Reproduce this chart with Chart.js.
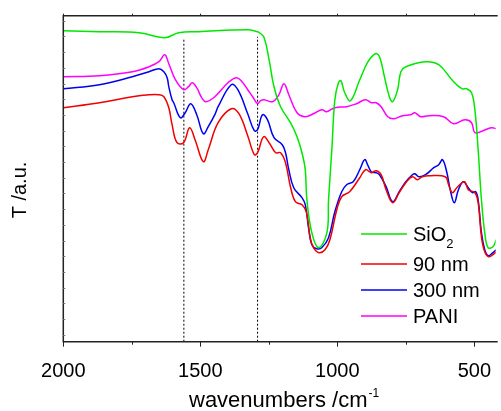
<!DOCTYPE html>
<html>
<head>
<meta charset="utf-8">
<script src="https://cdn.jsdelivr.net/npm/chart.js@4.4.1/dist/chart.umd.min.js"></script>
<style>
  html, body { margin: 0; padding: 0; background: #fff; }
  canvas { display: block; }
</style>
</head>
<body>
<canvas id="ftir" width="501" height="411"></canvas>
<script>
// FTIR transmittance spectra, wavenumber axis reversed (2000 -> ~420 cm-1)
const seriesLabels = ["SiO\u2082", "90 nm", "300 nm", "PANI"];
const seriesColors = ["#00e800", "#f00000", "#0000f0", "#ff00ff"];

const sio2Wn = [2000,1868,1724,1630,1579,1507,1327,1291,1284,1267,1249,1231,1207,1171,1147,1129,1117,1111,1093,1068,1038,1032,1020,1009,996,987,973,952,918,888,861,846,828,810,798,780,768,750,678,630,582,546,528,510,498,486,474,462,450,432,420];
const sio2T  = [311,310,309,304,309,310,312,310,309,304,282,255,235,219,205,189,172,142,109,94,109,142,192,242,259,261,249,241,262,280,288,285,265,245,240,252,270,275,280,277,262,253,253,249,232,192,142,109,94,95,102];

const nm90Wn = [2000,1868,1748,1687,1651,1633,1615,1603,1585,1561,1539,1518,1489,1471,1435,1387,1359,1327,1303,1291,1269,1249,1225,1207,1189,1171,1153,1129,1113,1099,1087,1067,1045,1027,1002,984,955,918,897,876,858,840,822,798,774,750,726,708,690,666,606,594,580,564,536,522,498,486,474,462,447,432,420];
const nm90T  = [234,239,245,247,247,245,234,217,199,199,214,201,180,192,219,233,228,206,187,189,205,199,189,189,179,155,140,137,130,104,94,89,92,102,132,145,150,164,172,169,171,167,152,139,149,159,165,162,165,166,165,157,149,154,160,152,149,139,105,90,85,87,90];

const nm300Wn = [2000,1868,1748,1687,1651,1633,1621,1615,1603,1597,1573,1555,1535,1513,1489,1471,1447,1435,1387,1363,1327,1303,1291,1273,1255,1231,1201,1189,1177,1159,1129,1117,1104,1093,1075,1057,1032,1009,984,966,942,918,900,888,876,858,846,822,798,774,750,726,717,702,678,648,630,616,600,588,573,558,540,522,507,495,486,474,462,450,432,420];
const nm300T  = [253,257,265,270,273,270,264,255,242,239,224,229,238,227,208,215,227,235,257,252,228,211,212,227,222,204,197,189,172,154,144,137,112,97,93,94,104,130,150,157,160,172,182,176,170,169,167,155,140,150,160,167,168,165,167,174,177,182,169,152,139,152,160,154,149,150,142,109,92,86,89,92];

const paniWn = [2000,1868,1748,1687,1651,1630,1615,1591,1561,1543,1529,1511,1495,1480,1447,1399,1369,1351,1327,1309,1291,1280,1267,1237,1213,1195,1177,1147,1117,1087,1057,1039,1009,966,930,897,876,858,840,816,792,762,732,717,696,666,612,576,534,510,498,468,438,420];
const paniT  = [265,266,270,275,280,287,278,262,252,255,259,253,244,240,245,259,264,261,252,245,238,241,242,240,247,258,247,229,225,228,232,230,234,235,238,242,239,239,235,225,223,226,227,229,225,226,225,218,222,219,209,211,214,213];

// dotted marker lines (band positions) and how high they reach
const markerWn = [1560, 1291];
const markerTop = [303, 305];

const xTickLabels = [2000, 1500, 1000, 500];
const xMinorTicks = [1750, 1250, 750];

const FONT = "'Liberation Sans', Arial, sans-serif";

const toPoints = (wn, t) => wn.map((w, i) => ({ x: w, y: t[i] }));

const spectra = [
  [sio2Wn, sio2T], [nm90Wn, nm90T], [nm300Wn, nm300T], [paniWn, paniT]
].map(([wn, t], i) => ({
  label: seriesLabels[i],
  data: toPoints(wn, t),
  borderColor: seriesColors[i],
  borderWidth: 1.5,
  pointRadius: 0,
  tension: 0.4,
  fill: false
}));

const markers = markerWn.map((w, i) => ({
  label: "marker" + i,
  data: [{ x: w, y: 0 }, { x: w, y: markerTop[i] }],
  borderColor: "#000",
  borderWidth: 1,
  borderDash: [2, 2],
  pointRadius: 0
}));

// frame, extra ticks, axis titles and legend
const framePlugin = {
  id: "frame",
  afterDraw(chart) {
    const { ctx, chartArea: a, scales: { x, y } } = chart;
    ctx.save();
    ctx.strokeStyle = "#222";
    ctx.lineWidth = 1.5;
    ctx.beginPath();
    ctx.moveTo(a.right + 2, a.top);
    ctx.lineTo(a.left, a.top);
    ctx.lineTo(a.left, a.bottom);
    ctx.lineTo(a.right + 2, a.bottom);
    ctx.stroke();

    ctx.lineWidth = 1;
    ctx.beginPath();
    xTickLabels.concat(xMinorTicks).forEach(v => {
      const px = Math.round(x.getPixelForValue(v)) + 0.5;
      const major = xTickLabels.includes(v);
      ctx.moveTo(px, a.bottom);
      ctx.lineTo(px, a.bottom + (major ? 5 : 3));
      ctx.moveTo(px, a.top);
      ctx.lineTo(px, a.top - 2);
    });
    ctx.stroke();

    // faint inner ticks on the left axis
    ctx.strokeStyle = "#777";
    ctx.beginPath();
    for (let t = 7; t < y.max; t += 15.7) {
      const py = Math.round(y.getPixelForValue(t)) + 0.5;
      ctx.moveTo(a.left, py);
      ctx.lineTo(a.left + 2, py);
    }
    ctx.stroke();

    ctx.fillStyle = "#000";
    // y title
    ctx.save();
    ctx.translate(20, 190);
    ctx.rotate(-Math.PI / 2);
    ctx.font = "20px " + FONT;
    ctx.textAlign = "center";
    ctx.textBaseline = "middle";
    ctx.fillText("T /a.u.", 0, 0);
    ctx.restore();

    // x title with superscript
    ctx.textBaseline = "alphabetic";
    ctx.textAlign = "left";
    ctx.font = "22px " + FONT;
    const main = "wavenumbers /cm";
    ctx.fillText(main, 189, 407);
    const w = ctx.measureText(main).width;
    ctx.font = "12px " + FONT;
    ctx.fillText("-1", 189 + w + 1, 397);

    // legend
    const rows = [234, 264, 290, 316];
    chart.data.datasets.slice(0, seriesLabels.length).forEach((ds, i) => {
      const ly = rows[i];
      ctx.strokeStyle = ds.borderColor;
      ctx.lineWidth = 1.5;
      ctx.beginPath();
      ctx.moveTo(361, ly);
      ctx.lineTo(407, ly);
      ctx.stroke();
      ctx.fillStyle = "#000";
      ctx.font = "20px " + FONT;
      const lbl = ds.label;
      if (lbl.endsWith("\u2082")) {
        const base = lbl.slice(0, -1);
        ctx.fillText(base, 413, ly + 7);
        const bw = ctx.measureText(base).width;
        ctx.font = "13px " + FONT;
        ctx.fillText("2", 413 + bw, ly + 13.5);
      } else {
        ctx.fillText(lbl, 413, ly + 7);
      }
    });
    ctx.restore();
  }
};

new Chart(document.getElementById("ftir"), {
  type: "line",
  data: { datasets: spectra.concat(markers) },
  options: {
    responsive: false,
    animation: false,
    devicePixelRatio: 1,
    layout: { padding: { left: 63.3, top: 15.7, right: 0, bottom: 0 } },
    plugins: { legend: { display: false }, tooltip: { enabled: false } },
    scales: {
      x: {
        type: "linear",
        reverse: true,
        min: 422,
        max: 2000,
        grid: { display: false },
        border: { display: false },
        afterBuildTicks: (scale) => {
          scale.ticks = xTickLabels.map(v => ({ value: v }));
        },
        afterFit: (scale) => { scale.height = 69.3; },
        ticks: {
          color: "#000",
          padding: 10,
          maxRotation: 0,
          autoSkip: false,
          font: { family: FONT, size: 20 },
          callback: (v) => String(v)
        }
      },
      y: {
        display: false,
        min: 0,
        max: 326
      }
    }
  },
  plugins: [framePlugin]
});
</script>
</body>
</html>
